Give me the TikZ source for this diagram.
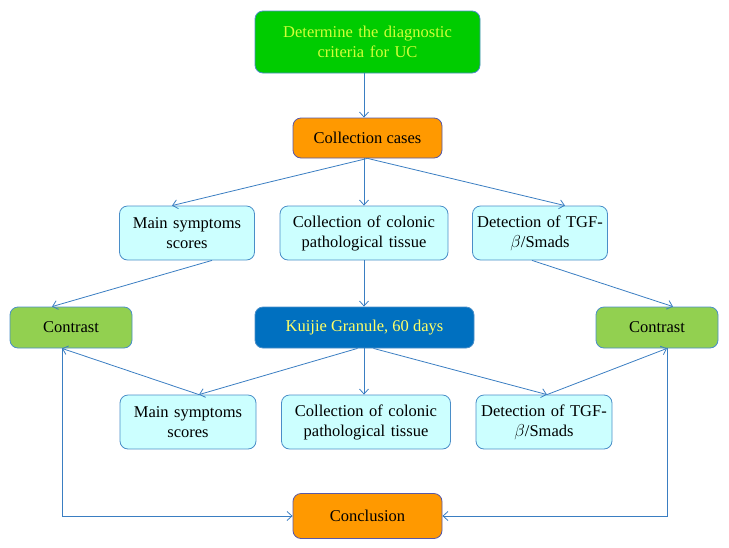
\documentclass[tikz,border=0pt]{standalone}
\usepackage{fontspec}
\setmainfont{Liberation Serif}
\usetikzlibrary{arrows.meta}

\definecolor{linkblue}{HTML}{3A7EC2}
\definecolor{boxedge}{HTML}{4A8EC8}
\definecolor{startgreen}{HTML}{00CC00}
\definecolor{startink}{HTML}{D0FF38}
\definecolor{caseorange}{HTML}{FF9900}
\definecolor{stepcyan}{HTML}{CCFFFF}
\definecolor{contrastgreen}{HTML}{92D050}
\definecolor{drugblue}{HTML}{0070C0}
\definecolor{druginkc}{HTML}{FFFF66}

\begin{document}
\begin{tikzpicture}[x=1pt, y=-1pt,
  font=\fontsize{16.5}{20}\selectfont,
  box/.style={draw=boxedge, line width=0.8pt, rounded corners=8pt, text centered, inner sep=2pt},
  cyanbox/.style={box, fill=stepcyan, minimum height=54pt},
  link/.style={draw=linkblue, line width=0.8pt, -{Straight Barb[length=5pt,width=9pt]}}]
\useasboundingbox (0,0) rectangle (729,547);

\node (diag) [box, fill=startgreen, text=startink, minimum width=225pt, minimum height=62pt, text width=215pt] at (367.5,42) {Determine the diagnostic\\ criteria for UC};
\node (cases) [box, fill=caseorange, draw=gray!70!blue, minimum width=149pt, minimum height=40pt] at (367.5,138) {Collection cases};

\node (sym1) [cyanbox, minimum width=135pt, text width=131pt] at (187,233) {Main symptoms\\ scores};
\node (tis1) [cyanbox, minimum width=168pt, text width=164pt] at (364,233) {Collection of colonic\\ pathological tissue};
\node (tgf1) [cyanbox, minimum width=135pt, text width=131pt] at (540,233) {Detection of TGF-\\ $\beta$/Smads};

\node (conL) [box, fill=contrastgreen, minimum width=122pt, minimum height=41pt] at (71,327.5) {Contrast};
\node (kuijie) [box, fill=drugblue, text=druginkc, minimum width=219pt, minimum height=41pt] at (364.5,327.5) {Kuijie Granule, 60 days};
\node (conR) [box, fill=contrastgreen, minimum width=122pt, minimum height=41pt] at (657,327.5) {Contrast};

\node (sym2) [cyanbox, minimum width=136pt, text width=132pt] at (188,422) {Main symptoms\\ scores};
\node (tis2) [cyanbox, minimum width=169pt, text width=165pt] at (366,422) {Collection of colonic\\ pathological tissue};
\node (tgf2) [cyanbox, minimum width=136pt, text width=132pt] at (544,422) {Detection of TGF-\\ $\beta$/Smads};

\node (concl) [box, fill=caseorange, draw=gray!70!blue, minimum width=149pt, minimum height=45pt] at (367.5,516) {Conclusion};

% top part
\draw[link] (diag.south -| tis1.north) -- (cases.north -| tis1.north);
\draw[link] (cases.south) -- ([xshift=-15pt]sym1.north);
\draw[link] (cases.south -| tis1.north) -- (tis1.north);
\draw[link] (cases.south) -- ([xshift=25pt]tgf1.north);

% first measurement to contrast
\draw[link] ([xshift=25pt]sym1.south) -- ([xshift=-19pt]conL.north);
\draw[link] ([xshift=-8pt]tgf1.south) -- ([xshift=16pt]conR.north);
\draw[link] (tis1.south) -- (kuijie.north -| tis1.south);

% after treatment
\draw[link] ([xshift=-7pt]kuijie.south) -- ([xshift=11pt]sym2.north);
\draw[link] (kuijie.south -| tis1.south) -- (tis2.north -| tis1.south);
\draw[link] ([xshift=9pt]kuijie.south) -- ([xshift=3pt]tgf2.north);
\draw[link] ([xshift=11pt]sym2.north) -- ([xshift=-9pt]conL.south);
\draw[link] ([xshift=3pt]tgf2.north) -- ([xshift=10pt]conR.south);

% to conclusion
\draw[link] ([xshift=-9pt]conL.south) |- (concl.west);
\draw[link] ([xshift=10pt]conR.south) |- (concl.east);

\end{tikzpicture}
\end{document}
